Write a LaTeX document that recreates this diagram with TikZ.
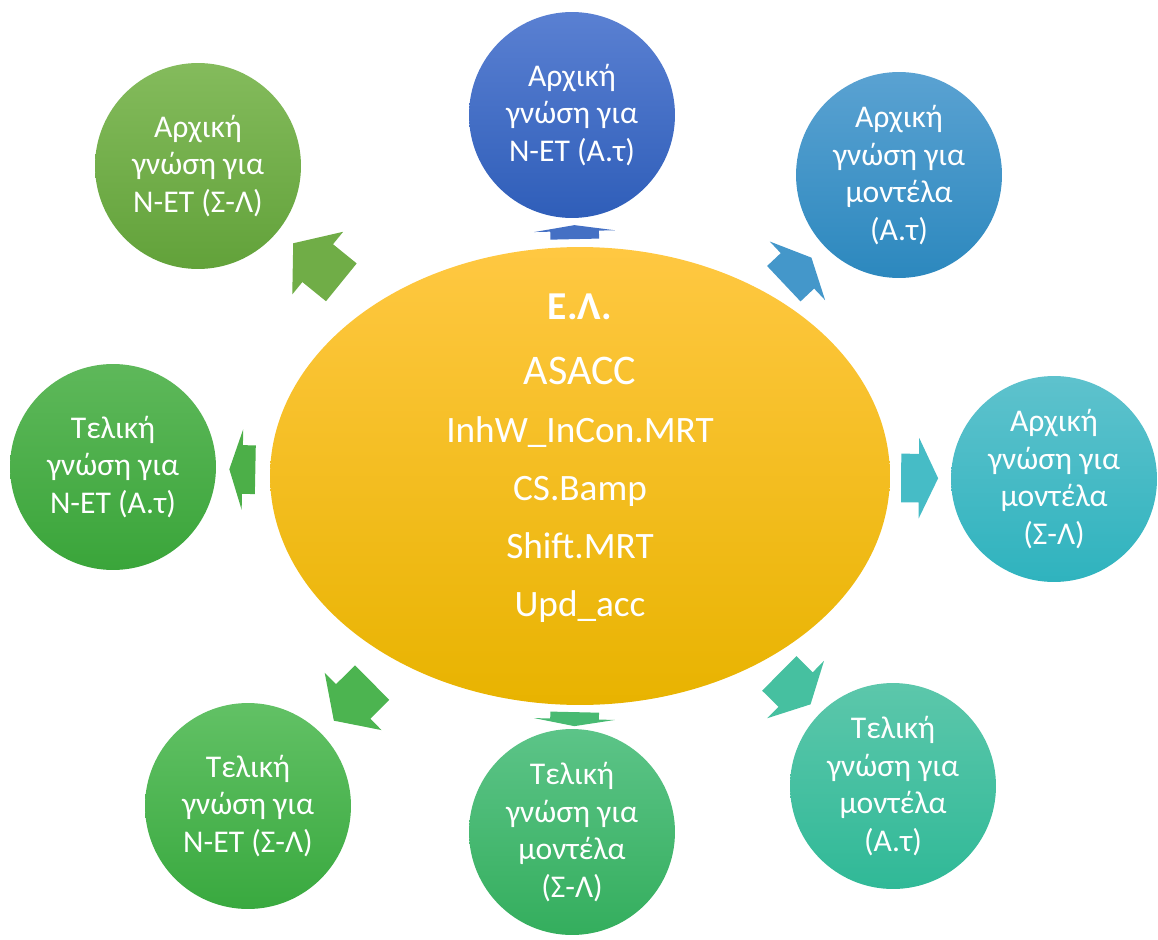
\documentclass[tikz,border=0pt]{standalone}
\usepackage{fontspec}
\setmainfont{Carlito}
\usetikzlibrary{shapes.geometric,shapes.arrows}

\definecolor{elltop}{HTML}{FFC842}
\definecolor{ellmid}{HTML}{FFC400}
\definecolor{ellbot}{HTML}{E8B300}

\tikzset{
  bubble/.style={circle, minimum size=4.12cm, inner sep=0pt, align=center,
    text=white, font=\fontsize{18}{21.5}\selectfont},
  blockarrow/.style={single arrow, draw=none, inner xsep=0pt, inner ysep=0.48cm,
    minimum width=1.6cm, single arrow head extend=0.32cm, sloped, allow upside down},
}

\begin{document}
\begin{tikzpicture}[x=0.02cm, y=-0.02cm]
  \useasboundingbox (0,0) rectangle (1158,939);

  \node[ellipse, minimum width=12.4cm, minimum height=9.16cm, inner sep=0pt,
    top color=elltop, middle color=ellmid, bottom color=ellbot] (el) at (580,476) {};
  \node[align=center, text=white, font=\fontsize{21.2}{33}\selectfont] (eltext) at (580,458)
    {{\fontsize{22.5}{26}\selectfont\bfseries Ε.Λ.}\\[4pt]
     {\fontsize{24}{33}\selectfont ASACC}\\ InhW\_InCon.MRT\\ CS.Bamp\\ Shift.MRT\\ Upd\_acc};

  % outer circles
  \node[bubble, top color={rgb,255:red,132;green,187;blue,92}, bottom color={rgb,255:red,98;green,162;blue,58}] (c1) at (198,166)
    {Αρχική\\ γνώση για\\ N-ET (Σ-Λ)};
  \node[bubble, top color={rgb,255:red,90;green,128;blue,210}, bottom color={rgb,255:red,47;green,94;blue,185}] (c2) at (572,115)
    {Αρχική\\ γνώση για\\ N-ET (Α.τ)};
  \node[bubble, top color={rgb,255:red,90;green,162;blue,210}, bottom color={rgb,255:red,44;green,136;blue,190}] (c3) at (899,175)
    {Αρχική\\ γνώση για\\ μοντέλα\\ (Α.τ)};
  \node[bubble, top color={rgb,255:red,94;green,194;blue,205}, bottom color={rgb,255:red,47;green,179;blue,190}] (c4) at (1054,479)
    {Αρχική\\ γνώση για\\ μοντέλα\\ (Σ-Λ)};
  \node[bubble, top color={rgb,255:red,92;green,199;blue,171}, bottom color={rgb,255:red,48;green,185;blue,151}] (c5) at (893,786)
    {Τελική\\ γνώση για\\ μοντέλα\\ (Α.τ)};
  \node[bubble, top color={rgb,255:red,92;green,196;blue,136}, bottom color={rgb,255:red,52;green,174;blue,93}] (c6) at (572,832)
    {Τελική\\ γνώση για\\ μοντέλα\\ (Σ-Λ)};
  \node[bubble, top color={rgb,255:red,98;green,193;blue,101}, bottom color={rgb,255:red,57;green,169;blue,63}] (c7) at (248,806)
    {Τελική\\ γνώση για\\ N-ET (Σ-Λ)};
  \node[bubble, top color={rgb,255:red,94;green,184;blue,90}, bottom color={rgb,255:red,58;green,165;blue,58}] (c8) at (113,467)
    {Τελική\\ γνώση για\\ N-ET (Α.τ)};

  % block arrows
  \path (el) -- node[blockarrow, pos=.5, minimum height=1.24cm, single arrow tip angle=104, fill={rgb,255:red,112;green,173;blue,71}] (a1) {} (c1);
  \path (el) -- node[blockarrow, pos=.45, minimum height=0.28cm, single arrow tip angle=163, fill={rgb,255:red,68;green,112;blue,196}] (a2) {} (c2);
  \path (el) -- node[blockarrow, pos=.42, minimum height=0.76cm, single arrow tip angle=129, fill={rgb,255:red,68;green,151;blue,202}] (a3) {} (c3);
  \path (el) -- node[blockarrow, pos=.39, minimum height=0.74cm, single arrow tip angle=129, fill={rgb,255:red,70;green,188;blue,198}] (a4) {} (c4);
  \path (el) -- node[blockarrow, pos=.46, minimum height=0.88cm, single arrow tip angle=125, fill={rgb,255:red,70;green,192;blue,160}] (a5) {} (c5);
  \path (el) -- node[blockarrow, pos=.5, minimum height=0.28cm, single arrow tip angle=160, fill={rgb,255:red,72;green,186;blue,114}] (a6) {} (c6);
  \path (el) -- node[blockarrow, pos=.49, minimum height=1.08cm, single arrow tip angle=112, fill={rgb,255:red,76;green,180;blue,80}] (a7) {} (c7);
  \path (el) -- node[blockarrow, pos=.44, minimum height=0.52cm, single arrow tip angle=144, fill={rgb,255:red,76;green,175;blue,72}] (a8) {} (c8);
\end{tikzpicture}
\end{document}
